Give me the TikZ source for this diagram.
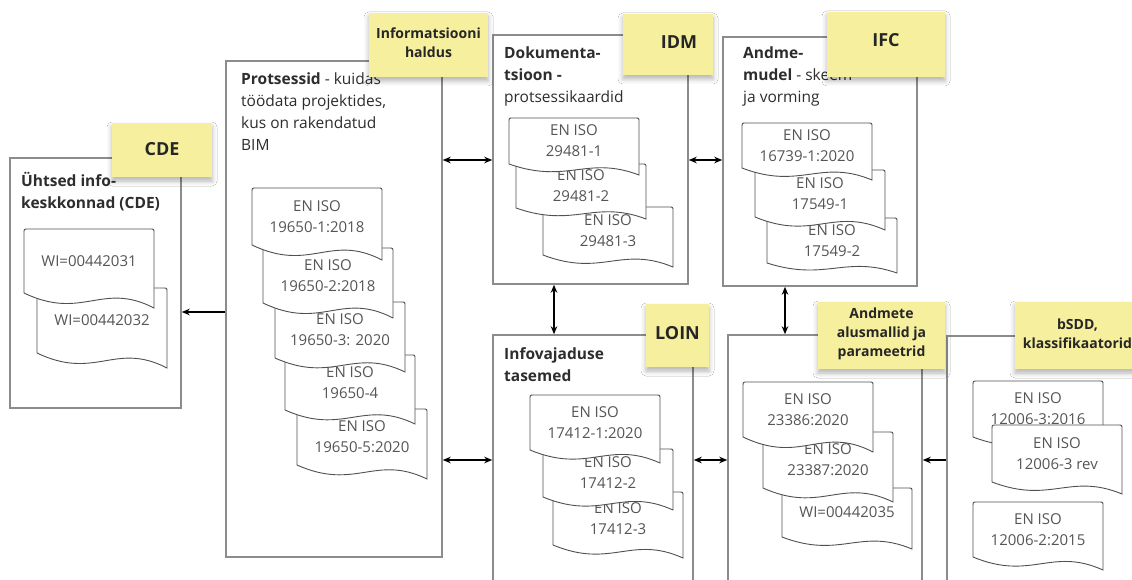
\documentclass[tikz,border=0pt]{standalone}
\usepackage{fontspec}
\setmainfont{Open Sans}
\usetikzlibrary{arrows.meta,fit,shadows.blur}

\definecolor{stickyfill}{RGB}{246,240,158}
\definecolor{boxline}{RGB}{140,140,140}
\definecolor{docline}{RGB}{80,80,80}
\definecolor{titletext}{RGB}{45,45,45}
\definecolor{doctext}{RGB}{85,85,85}

\tikzset{
  container/.style={draw=boxline, line width=1.5pt, fill=white, inner sep=0pt},
  % multi-line titles: the base anchor sits on the last line
  boxtitle/.style={anchor=base west, align=left, inner sep=0pt, text=titletext,
    font=\fontsize{15.5}{22}\selectfont},
  docshape/.style={draw=docline, line width=0.9pt, fill=white},
  doctext/.style={align=center, inner sep=0pt, text=doctext,
    font=\fontsize{15}{21}\selectfont},
  sticky/.style={fill=stickyfill, draw=none, inner sep=0pt,
    blur shadow={shadow xshift=0pt, shadow yshift=-4pt,
      shadow blur radius=5pt, shadow opacity=30}},
  stickybig/.style={font=\bfseries\fontsize{18}{22}\selectfont, text=black!85, inner sep=0pt},
  stickysmall/.style={font=\bfseries\fontsize{14}{19}\selectfont, align=center,
    text=black!85, inner sep=0pt},
  link/.style={line width=1.3pt,
    {Stealth[length=8pt,width=6.5pt]}-{Stealth[length=8pt,width=6.5pt]}},
  oneway/.style={line width=1.3pt, -{Stealth[length=8pt,width=6.5pt]}},
}

% standard sheet: name, left x, top y, height of left side, extra drop at right, text
\newcommand\stddoc[6]{%
  \draw[docshape] ({#2},{#3+4}) .. controls ({#2},{#3}) .. ({#2+4},{#3})
    -- ({#2+126},{#3}) .. controls ({#2+130},{#3}) .. ({#2+130},{#3+4})
    -- ({#2+130},{#3+#4+#5})
    .. controls ({#2+78},{#3+#4-0.8*#5}) and ({#2+58.5},{#3+#4+1.87*#5}) .. ({#2},{#3+#4})
    -- cycle;
  \node[doctext] (#1) at ({#2+65},{#3+#4/2}) {#6};
}

\begin{document}
\begin{tikzpicture}[x=1pt,y=-1pt]
\useasboundingbox (0,0) rectangle (1132,580);
\fill[white] (0,0) rectangle (1132,580);
\clip (0,0) rectangle (1132,580);

% group frames
\node[container, fit={(10,158) (181,408)}] (cde) {};
\node[container, fit={(226,61) (442,557)}] (proc) {};
\node[container, fit={(493,35) (688,284)}] (dok) {};
\node[container, fit={(723,37) (917,286)}] (mud) {};
\node[container, fit={(493,335) (693,600)}] (loin) {};
\node[container, fit={(728,335) (922,600)}] (alus) {};
\node[container, fit={(947,336) (1160,600)}] (bsdd) {};

% frame titles
\node[boxtitle] (cde-title) at (21,208) {\textbf{Ühtsed info-}\\\textbf{keskkonnad (CDE)}};
\node[boxtitle] (proc-title) at (241,151) {\textbf{Protsessid} - kuidas\\töödata projektides,\\kus on rakendatud\\BIM};
\node[boxtitle] (dok-title) at (504,103) {\textbf{Dokumenta-}\\\textbf{tsioon -}\\protsessikaardid};
\node[boxtitle] (mud-title) at (743,103) {\textbf{Andme-}\\\textbf{mudel} - skeem\\ja vorming};
\node[boxtitle] (loin-title) at (504,381) {\textbf{Infovajaduse}\\\textbf{tasemed}};

% standards, drawn from the back of each stack to the front
\stddoc{c2}{37}{288}{65}{15}{WI=00442032}
\stddoc{c1}{24}{229}{64}{15}{WI=00442031}

\stddoc{p5}{297}{409}{56}{14}{EN ISO\\19650-5:2020}
\stddoc{p4}{285}{355}{55}{14}{EN ISO\\19650-4}
\stddoc{p3}{275}{302}{56}{14}{EN ISO\\19650-3: 2020}
\stddoc{p2}{263}{248}{55}{15}{EN ISO\\19650-2:2018}
\stddoc{p1}{252}{188}{57}{15}{EN ISO\\19650-1:2018}

\stddoc{k3}{543}{207}{48}{12}{EN ISO\\29481-3}
\stddoc{k2}{516}{164}{44}{11}{EN ISO\\29481-2}
\stddoc{k1}{509}{118}{46}{11}{EN ISO\\29481-1}

\stddoc{m3}{767}{218}{45}{10}{EN ISO\\17549-2}
\stddoc{m2}{755}{170}{47}{13}{EN ISO\\17549-1}
\stddoc{m1}{742}{123}{45}{12}{EN ISO\\16739-1:2020}

\stddoc{l3}{553}{492}{53}{13}{EN ISO\\17412-3}
\stddoc{l2}{543}{449}{48}{13}{EN ISO\\17412-2}
\stddoc{l1}{530}{395}{55}{13}{EN ISO\\17412-1:2020}

\stddoc{a3}{782}{488}{49}{12}{WI=00442035}
\stddoc{a2}{763}{432}{56}{14}{EN ISO\\23387:2020}
\stddoc{a1}{743}{382}{55}{15}{EN ISO\\23386:2020}

\stddoc{b1}{973}{381}{56}{12}{EN ISO\\12006-3:2016}
\stddoc{b2}{992}{425}{57}{12}{EN ISO\\12006-3 rev}
\stddoc{b3}{973}{502}{55}{13}{EN ISO\\12006-2:2015}

% connections between the groups
\draw[oneway] (proc.west |- 0,312) -- (cde.east |- 0,312);
\draw[link] (proc.east |- 0,160) -- (dok.west |- 0,160);
\draw[link] (proc.east |- 0,460) -- (loin.west |- 0,460);
\draw[link] (dok.east |- 0,160) -- (mud.west |- 0,160);
\draw[link] (dok.south -| 554,0) -- (loin.north -| 554,0);
\draw[link] (mud.south -| 785,0) -- (alus.north -| 785,0);
\draw[link] (loin.east |- 0,460) -- (alus.west |- 0,460);
\draw[oneway] (bsdd.west |- 0,460) -- (alus.east |- 0,460);

% sticky notes
\node[sticky, fit={(112,123) (212,177)},
  label={[stickybig, yshift=1pt]center:CDE}] (s-cde) {};
\node[sticky, fit={(369,13) (488,77)},
  label={[stickysmall, yshift=2pt]center:Informatsiooni\\haldus}] (s-info) {};
\node[sticky, fit={(623,14) (713,75)},
  label={[stickybig, xshift=11pt, yshift=2pt]center:IDM}] (s-idm) {};
\node[sticky, fit={(827,12) (945,77)},
  label={[stickybig, yshift=4pt]center:IFC}] (s-ifc) {};
\node[sticky, fit={(646,304) (709,367)},
  label={[stickybig, yshift=2pt]center:LOIN}] (s-loin) {};
\node[sticky, fit={(818,302) (945,369)},
  label={[stickysmall, yshift=2pt]center:Andmete\\alusmallid ja\\parameetrid}] (s-alus) {};
\node[sticky, fit={(1015,302) (1140,369)},
  label={[stickysmall, yshift=2pt]center:bSDD,\\klassifikaatorid}] (s-bsdd) {};
\end{tikzpicture}
\end{document}
